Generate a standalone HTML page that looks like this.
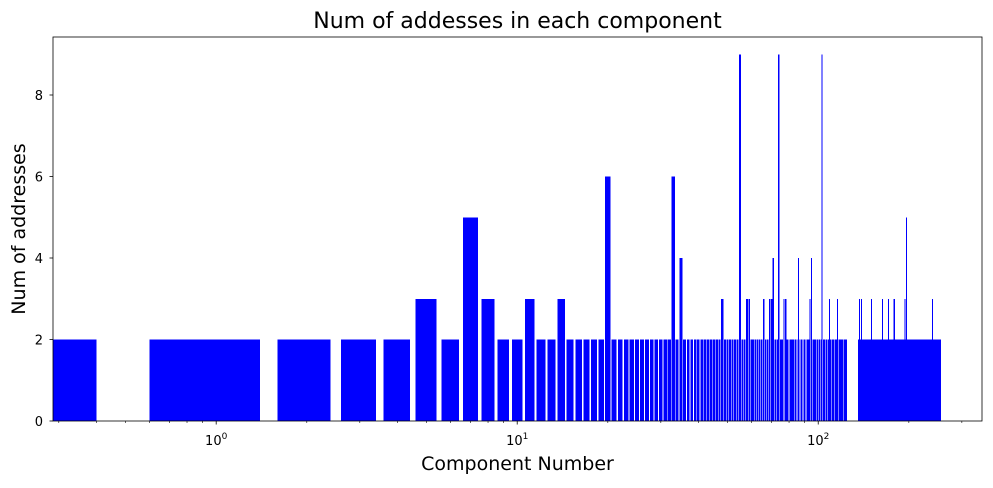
<!DOCTYPE html>
<html><head><meta charset="utf-8"><style>
body{margin:0;background:#fff;font-family:"DejaVu Sans","Liberation Sans",sans-serif}
</style></head><body>
<svg id="chart" width="993" height="484" xmlns="http://www.w3.org/2000/svg" font-family="DejaVu Sans, Liberation Sans, sans-serif"></svg>
<script>
const componentCount = 255;
const defaultValue = 2;
const overrideIdx = [5,7,8,11,14,20,33,35,48,55,58,59,66,69,70,71,74,77,78,86,94,95,103,109,116,137,139,150,163,171,178,179,194,196,239];
const overrideVal = [3,5,3,3,3,6,6,4,3,9,3,3,3,3,3,4,9,3,3,4,3,4,9,3,3,3,3,3,3,3,3,3,3,5,3];
const zeroIdx = [125,126,127,128,129,130,131,132,133,134,135];
const yTicks = [0,2,4,6,8];
const xMajor = [1,10,100];
const xMajorExp = ["0","1","2"];

const svg = document.getElementById('chart');
const NS = 'http://www.w3.org/2000/svg';
const L=53,R=982,T=37,B=421;
const xmin=Math.log10(0.287), xmax=Math.log10(350);
const X = v => L + (Math.log10(v)-xmin)/(xmax-xmin)*(R-L);
const Y = v => B - v*(B-95)/8;
function mk(tag, attrs){const e=document.createElementNS(NS,tag);for(const k in attrs)e.setAttribute(k,attrs[k]);svg.appendChild(e);return e;}

const values=[];
for(let i=0;i<componentCount;i++)values.push(defaultValue);
overrideIdx.forEach((n,k)=>values[n]=overrideVal[k]);
zeroIdx.forEach(n=>values[n]=0);

values.forEach((v,i)=>{
  if(v<=0)return;
  const lo=i-0.4, hi=i+0.4;
  const x0 = lo<=0 ? L : Math.max(L,X(lo));
  const x1 = Math.min(R,X(hi));
  const r=mk('rect',{x:x0,y:Y(v),width:Math.max(1,x1-x0),height:B-Y(v),fill:'#0000ff','shape-rendering':'crispEdges'});
  
  
});

const frame=mk('rect',{x:L,y:T,width:R-L,height:B-T,fill:'none',stroke:'#000','stroke-width':0.8});



yTicks.forEach(t=>{
  const y=Y(t);
  const tk=mk('line',{x1:L-3.5,x2:L,y1:y,y2:y,stroke:'#000','stroke-width':0.8});
  
  
  const lb=mk('text',{x:L-10,y:y+5,'text-anchor':'end','font-size':13});
  lb.textContent=t;
  
  
});

xMajor.forEach((t,k)=>{
  const x=X(t);
  const tk=mk('line',{x1:x,x2:x,y1:B,y2:B+3.5,stroke:'#000','stroke-width':0.8});
  
  
  const lb=mk('text',{x:x,y:B+24,'text-anchor':'middle','font-size':13});
  lb.innerHTML='10<tspan dy="-6" font-size="9">'+xMajorExp[k]+'</tspan>';
  
  
});
[0.1,1,10,100].forEach(d=>{for(let m=2;m<=9;m++){const v=d*m;if(v<0.287||v>350)continue;const x=X(v);
  const tk=mk('line',{x1:x,x2:x,y1:B,y2:B+2,stroke:'#000','stroke-width':0.6});
  
  }});

const title=mk('text',{x:(L+R)/2,y:28,'text-anchor':'middle','font-size':22});
title.textContent='Num of addesses in each component';


const xl=mk('text',{x:(L+R)/2,y:470,'text-anchor':'middle','font-size':19});
xl.textContent='Component Number';


const yl=mk('text',{x:0,y:0,'text-anchor':'middle','font-size':19,transform:'translate(25,'+((T+B)/2)+') rotate(-90)'});
yl.textContent='Num of addresses';


</script>
</body></html>
